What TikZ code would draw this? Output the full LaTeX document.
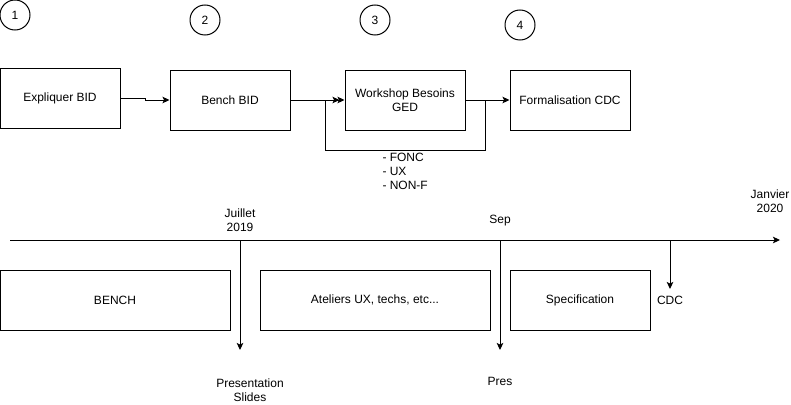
\documentclass[tikz,border=0pt]{standalone}
\usepackage{fontspec}
\setmainfont{Liberation Sans}
\usetikzlibrary{arrows.meta}
\begin{document}
\begin{tikzpicture}[x=1pt,y=-1pt,line width=1pt,
  txt/.style={font=\fontsize{12}{14}\selectfont},
  box/.style={draw,txt,minimum height=60pt,inner sep=0pt,align=center},
  num/.style={draw,circle,txt,minimum size=30pt,inner sep=0pt},
  lbl/.style={txt,align=center,inner sep=0pt},
  arr/.style={-{Stealth[length=7pt,width=6.5pt,inset=1.5pt]}}]
\useasboundingbox (0,0) rectangle (791,404);
% numbered circles
\node[num] (c1) at (15,15) {1};
\node[num] (c2) at (205,20) {2};
\node[num] (c3) at (375,20) {3};
\node[num] (c4) at (520,25) {4};
% process boxes
\node[box,minimum width=120pt] (b1) at (60,98) {Expliquer BID};
\node[box,minimum width=120pt] (b2) at (230,100) {Bench BID};
\node[box,minimum width=120pt] (b3) at (405,100) {Workshop Besoins\\GED};
\node[box,minimum width=120pt] (b4) at (570,100) {Formalisation CDC};
\draw[arr] (b1.east) -- ++(25,0) |- (b2.west);
\draw[arr,shorten >=5pt] (b2.east) -- (b3.west);
\coordinate (lr) at (485,150);
\coordinate (ll) at (325,150);
\draw[arr] (b3.east) -| (lr) -| (ll) |- (b3.west);
\draw[arr] (b3.east) -- (b4.west);
\node[lbl,align=left,anchor=west] (fl) at (382,171) {- FONC\\- UX\\- NON-F};
% timeline
\coordinate (t0) at (10,240);
\coordinate (t1) at (780,240);
\draw[arr] (t0) -- (t1);
\node[lbl] (jl) at (240,220) {Juillet\\2019};
\node[lbl] (sl) at (500,221) {Sep};
\node[lbl] (janl) at (770,201) {Janvier\\2020};
\coordinate (jt) at (240,240);
\coordinate (je) at (240,350);
\draw[arr] (jt) -- (je);
\coordinate (st) at (500,240);
\coordinate (se) at (500,350);
\draw[arr] (st) -- (se);
\coordinate (ct) at (670,240);
\coordinate (ce) at (670,289);
\draw[arr] (ct) -- (ce);
\node[lbl] (cdc) at (670,300) {CDC};
\node[lbl] (ps) at (250,390) {Presentation\\Slides};
\node[lbl] (pr) at (500,381) {Pres};
% phase boxes
\node[box,minimum width=230pt] (bb) at (115,300) {BENCH};
\node[box,minimum width=230pt] (ba) at (375,300) {Ateliers UX, techs, etc...};
\node[box,minimum width=140pt] (bs) at (580,300) {Specification};
\end{tikzpicture}
\end{document}
